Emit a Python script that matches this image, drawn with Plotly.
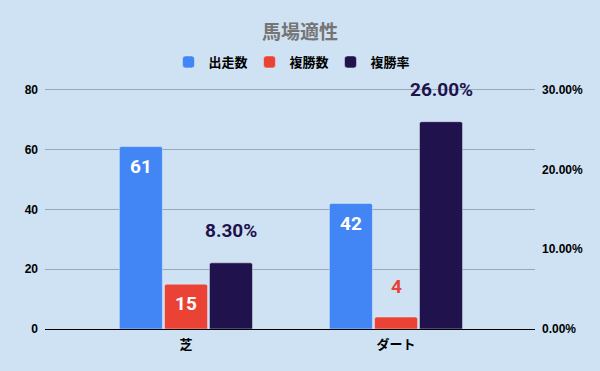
import plotly.graph_objects as go

categories = ["芝", "ダート"]
starts = [61, 42]          # 出走数
top3 = [15, 4]             # 複勝数
top3_rate = [0.083, 0.26]  # 複勝率
left_ticks = [0, 20, 40, 60, 80]
right_ticks = [0, 0.1, 0.2, 0.3]
right_tick_labels = ["0.00%", "10.00%", "20.00%", "30.00%"]

BLUE = "#4285F4"
RED = "#EA4335"
NAVY = "#20124D"
BG = "#CFE2F3"
JP = "Noto Sans CJK JP"
NUM = "Roboto"
LAB_SIZE = 19

W = 0.205
OFFS = [-0.317, -0.102, 0.112]
TOP = 80.6  # slightly above 80 so the top gridline is drawn

xs = list(range(len(categories)))

fig = go.Figure()
fig.add_trace(go.Bar(name="出走数", x=xs, y=starts, marker=dict(color=BLUE, cornerradius=2),
                     width=W, offset=OFFS[0], yaxis="y"))
fig.add_trace(go.Bar(name="複勝数", x=xs, y=top3, marker=dict(color=RED, cornerradius=2),
                     width=W, offset=OFFS[1], yaxis="y"))
fig.add_trace(go.Bar(name="複勝率", x=xs, y=top3_rate, marker=dict(color=NAVY, cornerradius=2),
                     width=W, offset=OFFS[2], yaxis="y2"))

annotations = []
lab_font = dict(family=NUM, size=LAB_SIZE, color="white")
for i, v in enumerate(starts):
    annotations.append(dict(x=i + OFFS[0] + W / 2, y=v, xref="x", yref="y", text=f"<b>{v}</b>",
                            showarrow=False, yshift=-20, font=lab_font))
for i, v in enumerate(top3):
    if v >= 10:
        annotations.append(dict(x=i + OFFS[1] + W / 2, y=v, xref="x", yref="y", text=f"<b>{v}</b>",
                                showarrow=False, yshift=-19, font=lab_font))
    else:
        annotations.append(dict(x=i + OFFS[1] + W / 2, y=v, xref="x", yref="y", text=f"<b>{v}</b>",
                                showarrow=False, yshift=31, font=dict(family=NUM, size=LAB_SIZE, color=RED)))
for i, v in enumerate(top3_rate):
    annotations.append(dict(x=i + OFFS[2] + W / 2, y=v, xref="x", yref="y2", text=f"<b>{v*100:.2f}%</b>",
                            showarrow=False, yshift=32, font=dict(family=NUM, size=LAB_SIZE, color=NAVY)))

fig.update_layout(
    width=600, height=371,
    paper_bgcolor=BG, plot_bgcolor=BG,
    margin=dict(l=45, r=65, t=88.2, b=42, autoexpand=False),
    title=dict(text="<b>馬場適性</b>", x=0.5, xanchor="center", y=(371 - 32) / 371, yref="container",
               yanchor="middle", font=dict(family=JP, size=19, color="#757575")),
    legend=dict(orientation="h", x=0.5, xanchor="center", y=(371 - 62) / 371, yref="container",
                yanchor="middle", entrywidth=36, entrywidthmode="pixels",
                font=dict(family=JP, size=13, color="#000000", weight="bold"), bgcolor="rgba(0,0,0,0)",
                traceorder="normal"),
    showlegend=True,
    barmode="overlay",
    annotations=annotations,
    xaxis=dict(tickmode="array", tickvals=xs, ticktext=categories,
               range=[-0.671, 1.662], showgrid=False, zeroline=False, showline=False,
               tickfont=dict(family=JP, size=13, color="#000000", weight="bold"), ticks="", ticklen=0,
               ticklabelstandoff=6),
    yaxis=dict(range=[0, TOP], tickvals=left_ticks, ticktext=[f"<b>{t}</b>" for t in left_ticks],
               showgrid=True, gridcolor="#9AA8B6", gridwidth=1, zeroline=True, zerolinecolor="#000000",
               zerolinewidth=1, tickfont=dict(family="Liberation Sans", size=12, color="#000000"),
               ticks="", showline=False, ticklabelstandoff=6),
    yaxis2=dict(range=[0, 0.3 * TOP / 80], overlaying="y", side="right", tickvals=right_ticks,
                ticktext=[f"<b>{t}</b>" for t in right_tick_labels], showgrid=False, zeroline=False,
                tickfont=dict(family="Liberation Sans", size=12, color="#000000"), ticks="",
                showline=False, ticklabelstandoff=6),
)

fig.write_html("out.html", config={"displayModeBar": False},
               post_script="document.body.style.margin='0';document.body.style.padding='0';")
